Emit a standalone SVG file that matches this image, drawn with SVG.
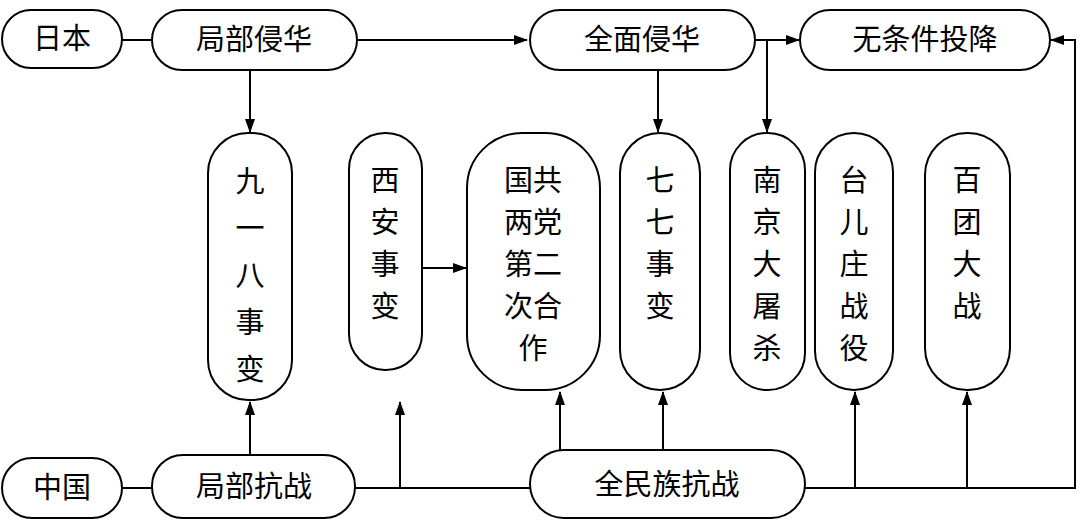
<svg xmlns="http://www.w3.org/2000/svg" width="1080" height="526" viewBox="0 0 1080 526">
<defs>
<marker id="a" markerWidth="14" markerHeight="10" refX="13" refY="5" orient="auto" markerUnits="userSpaceOnUse"><path d="M0,0 L14,5 L0,10 Z" fill="#000"/></marker>
<style>
rect{fill:#fff;stroke:#000;stroke-width:2}
text{font-family:"Noto Sans CJK SC","Liberation Sans",sans-serif;font-size:29px;text-anchor:middle;fill:#000}
.c line,.c polyline{stroke:#000;stroke-width:2;fill:none}
</style>
</defs>
<rect width="1080" height="526" style="fill:#fff;stroke:none"/>
<g class="c">
<line x1="122" y1="40" x2="152" y2="40"/>
<line x1="357" y1="40" x2="527" y2="40" marker-end="url(#a)"/>
<line x1="755" y1="40" x2="799" y2="40" marker-end="url(#a)"/>
<line x1="767" y1="40" x2="767" y2="132" marker-end="url(#a)"/>
<line x1="250" y1="70" x2="250" y2="132" marker-end="url(#a)"/>
<line x1="658" y1="70" x2="658" y2="132" marker-end="url(#a)"/>
<line x1="422" y1="268" x2="466" y2="268" marker-end="url(#a)"/>
<line x1="122" y1="488" x2="152" y2="488"/>
<line x1="250" y1="455" x2="250" y2="402" marker-end="url(#a)"/>
<line x1="355" y1="488" x2="530" y2="488"/>
<line x1="400" y1="488" x2="400" y2="402" marker-end="url(#a)"/>
<line x1="560" y1="450" x2="560" y2="392" marker-end="url(#a)"/>
<line x1="663" y1="450" x2="663" y2="392" marker-end="url(#a)"/>
<polyline points="805,488 1075,488 1075,40 1051,40" marker-end="url(#a)"/>
<line x1="855" y1="488" x2="855" y2="392" marker-end="url(#a)"/>
<line x1="967" y1="488" x2="967" y2="392" marker-end="url(#a)"/>
</g>
<g id="riben"><rect x="2" y="10" width="120" height="58" rx="29"/><text x="62" y="49">日本</text></g>
<g id="jubuqinhua"><rect x="152" y="10" width="205" height="60" rx="30"/><text x="254" y="50">局部侵华</text></g>
<g id="quanmianqinhua"><rect x="530" y="10" width="225" height="60" rx="30"/><text x="642" y="50">全面侵华</text></g>
<g id="wutiaojian"><rect x="800" y="10" width="250" height="60" rx="30"/><text x="925" y="50">无条件投降</text></g>
<g id="n918"><rect x="208" y="133" width="84" height="267" rx="40"/><text x="250" y="192">九</text><text x="250" y="239">一</text><text x="250" y="286">八</text><text x="250" y="333">事</text><text x="250" y="380">变</text></g>
<g id="xian"><rect x="349" y="133" width="73" height="237" rx="36"/><text x="385" y="191">西</text><text x="385" y="233">安</text><text x="385" y="275">事</text><text x="385" y="317">变</text></g>
<g id="guogong"><rect x="467" y="133" width="133" height="257" rx="55"/><text x="533" y="191">国共</text><text x="533" y="233">两党</text><text x="533" y="275">第二</text><text x="533" y="317">次合</text><text x="533" y="359">作</text></g>
<g id="qiqi"><rect x="620" y="133" width="80" height="257" rx="40"/><text x="660" y="191">七</text><text x="660" y="233">七</text><text x="660" y="275">事</text><text x="660" y="317">变</text></g>
<g id="nanjing"><rect x="730" y="133" width="75" height="257" rx="37"/><text x="767" y="191">南</text><text x="767" y="233">京</text><text x="767" y="275">大</text><text x="767" y="317">屠</text><text x="767" y="359">杀</text></g>
<g id="taierzhuang"><rect x="815" y="133" width="78" height="257" rx="39"/><text x="854" y="191">台</text><text x="854" y="233">儿</text><text x="854" y="275">庄</text><text x="854" y="317">战</text><text x="854" y="359">役</text></g>
<g id="baituan"><rect x="925" y="133" width="85" height="257" rx="42"/><text x="967" y="191">百</text><text x="967" y="233">团</text><text x="967" y="275">大</text><text x="967" y="317">战</text></g>
<g id="zhongguo"><rect x="2" y="458" width="120" height="60" rx="30"/><text x="62" y="498">中国</text></g>
<g id="jubukangzhan"><rect x="152" y="455" width="203" height="63" rx="31"/><text x="254" y="497">局部抗战</text></g>
<g id="quanminzu"><rect x="530" y="450" width="275" height="68" rx="34"/><text x="667" y="495">全民族抗战</text></g>
</svg>
